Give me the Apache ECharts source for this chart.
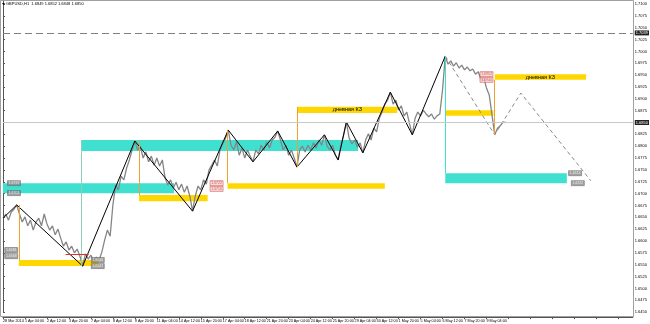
<!DOCTYPE html>
<html><head><meta charset="utf-8">
<script src="https://cdn.jsdelivr.net/npm/echarts/dist/echarts.min.js"></script>
<style>html,body{margin:0;padding:0;background:#fff}#c{width:650px;height:324px}</style>
</head><body><div id="c"></div>
<script>
// ---- data ----
const symbolTitle = 'GBPUSD,H1  1.6849 1.6852 1.6848 1.6850';
const tickLabels = ['28 Mar 2014','1 Apr 04:00','2 Apr 12:00','3 Apr 20:00','7 Apr 04:00','8 Apr 12:00','9 Apr 20:00','11 Apr 04:00','14 Apr 12:00','15 Apr 20:00','17 Apr 04:00','18 Apr 12:00','21 Apr 20:00','23 Apr 04:00','24 Apr 12:00','25 Apr 20:00','29 Apr 04:00','30 Apr 12:00','1 May 20:00','5 May 04:00','6 May 12:00','7 May 20:00','9 May 04:00'];
const barsPerTick = 32;
const closeStep = 4; // H1 bars between samples
const closes = [
1.6648,1.6657,1.6644,1.6661,1.6667,1.6676,1.6657,1.6640,1.6651,1.6632,
1.6644,1.6623,1.6640,1.6648,1.6632,1.6657,1.6636,1.6623,1.6632,1.6613,
1.6625,1.6606,1.6589,1.6598,1.6581,1.6589,1.6575,1.6583,1.6568,1.6547,
1.6573,1.6562,1.6570,1.6558,1.6566,1.6560,1.6577,1.6602,1.6623,1.6610,
1.6676,1.6718,1.6708,1.6737,1.6729,1.6754,1.6771,1.6792,1.6811,1.6792,
1.6800,1.6775,1.6788,1.6767,1.6779,1.6760,1.6775,1.6758,1.6771,1.6733,
1.6718,1.6729,1.6712,1.6724,1.6708,1.6720,1.6703,1.6716,1.6695,1.6663,
1.6695,1.6716,1.6708,1.6729,1.6720,1.6750,1.6760,1.6771,1.6758,1.6792,
1.6805,1.6817,1.6834,1.6802,1.6792,1.6809,1.6781,1.6796,1.6775,1.6792,
1.6779,1.6767,1.6792,1.6784,1.6802,1.6792,1.6809,1.6796,1.6813,1.6819,
1.6832,1.6813,1.6792,1.6802,1.6781,1.6792,1.6775,1.6756,1.6792,1.6800,
1.6788,1.6802,1.6792,1.6807,1.6796,1.6813,1.6802,1.6824,1.6800,1.6792,
1.6802,1.6781,1.6771,1.6802,1.6824,1.6851,1.6817,1.6805,1.6813,1.6798,
1.6807,1.6786,1.6813,1.6826,1.6813,1.6838,1.6830,1.6859,1.6872,1.6889,
1.6897,1.6914,1.6889,1.6897,1.6876,1.6885,1.6864,1.6872,1.6847,1.6824,
1.6859,1.6872,1.6864,1.6876,1.6868,1.6862,1.6868,1.6857,1.6864,1.6868,
1.6919,1.6990,1.6973,1.6980,1.6969,1.6976,1.6965,1.6971,1.6961,1.6967,
1.6959,1.6963,1.6952,1.6957,1.6940,1.6944,1.6923,1.6908,1.6866,1.6824,
1.6838,1.6843,1.6851,1.6850];
const zzBars   = [0,20,116,192,276,328,364,400,428,468,488,500,524,564,596,644];
const zzPrices = [1.6648,1.6676,1.6547,1.6811,1.6663,1.6834,1.6767,1.6832,1.6756,1.6824,1.6771,1.6851,1.6786,1.6914,1.6824,1.6990];
const projBars   = [644,716,754,856];
const projPrices = [1.6990,1.6824,1.6912,1.6727];
const zoneStart  = [0,114,644];
const zoneEnd    = [249,517,821];
const zoneTop    = [1.6722,1.6813,1.6743];
const zoneBottom = [1.6701,1.6790,1.6722];
const dailyStart  = [23,198,327,429,645,716];
const dailyEnd    = [139,298,556,574,714,849];
const dailyTop    = [1.6560,1.6697,1.6722,1.6883,1.6876,1.6952];
const dailyBottom = [1.6547,1.6684,1.6710,1.6870,1.6864,1.6940];
const dailyText   = ['','','','дневная КЗ','','дневная КЗ'];
const markerBars = [23,114,198,327,429,644,716];
const markerFrom = [1.6676,1.6813,1.6811,1.6834,1.6883,1.6990,1.6940];
const markerTo   = [1.6560,1.6547,1.6697,1.6722,1.6756,1.6743,1.6824];
const markerKind = ['daily','zoneLine','daily','daily','daily','zone','daily'];
const tagBars   = [16,16,12,12,138,138,311,311,704,704,833,837];
const tagPrices = [1.6722,1.6701,1.6581,1.6568,1.6560,1.6547,1.6722,1.6710,1.6952,1.6940,1.6743,1.6722];
const tagKind   = ['g','g','g','g','g','g','r','r','r','r','g','g'];
const levelPrice = 1.7039;
const levelText = 'недельная КЗ';
const redLineBars = [91,125];
const redLinePrice = 1.6573;

// ---- styles ----
const X_MIN = 0, X_MAX = 917;
const C = {zone:'#40E0D0', daily:'#FFD700', zoneLine:'#8fcfb8', dailyLine:'#f0a030'};
const lastPrice = closes[closes.length-1];

const chart = echarts.init(document.getElementById('c'), null, {renderer:'canvas'});
const rectData = [];
zoneStart.forEach((s,i)=>rectData.push([{xAxis:s,yAxis:zoneTop[i],itemStyle:{color:C.zone,opacity:1},label:{show:false}},{xAxis:zoneEnd[i],yAxis:zoneBottom[i]}]));
dailyStart.forEach((s,i)=>rectData.push([{xAxis:s,yAxis:dailyTop[i],itemStyle:{color:C.daily,opacity:1},
  label:{show:!!dailyText[i],formatter:dailyText[i],position:'inside',fontSize:5.5,color:'#000',fontFamily:'Liberation Sans'}},{xAxis:dailyEnd[i],yAxis:dailyBottom[i]}]));
const markerData = markerBars.map((b,i)=>[{coord:[b,markerFrom[i]],lineStyle:{color:markerKind[i]==='daily'?C.dailyLine:(markerKind[i]==='zone'?C.zone:C.zoneLine),width:1,type:'solid'}},{coord:[b,markerTo[i]]}]);
markerData.push([{coord:[redLineBars[0],redLinePrice],lineStyle:{color:'#e03030',width:1,type:'solid'}},{coord:[redLineBars[1],redLinePrice]}]);
const axisTag = {show:true,position:'end',distance:2,fontSize:4,color:'#fff',backgroundColor:'#222',padding:[1,1,0,1],fontFamily:'Liberation Sans'};
const levelData = [
  [{coord:[X_MIN,levelPrice],lineStyle:{color:'#808080',width:1,type:[7,4]},label:Object.assign({},axisTag,{formatter:levelPrice.toFixed(4)})},{coord:[X_MAX,levelPrice]}],
  [{coord:[X_MIN,lastPrice],lineStyle:{color:'#c8c8c8',width:1,type:'solid'},label:Object.assign({},axisTag,{formatter:lastPrice.toFixed(4)})},{coord:[X_MAX,lastPrice]}],
  [{coord:[X_MIN,levelPrice],lineStyle:{opacity:0},label:{show:true,position:'insideStartTop',distance:1,formatter:levelText,fontSize:3.5,color:'#444',fontFamily:'Liberation Sans'}},{coord:[X_MAX,levelPrice]}]
];

const option = {
  animation:false,
  backgroundColor:'#fff',
  grid:{left:1,right:16,top:0,bottom:11.9,containLabel:false},
  xAxis:{type:'value',min:X_MIN,max:X_MAX,interval:barsPerTick,offset:5,
    axisLine:{show:true,onZero:false,lineStyle:{color:'#555',width:1}},
    axisTick:{show:true,length:2,lineStyle:{color:'#555'}},
    axisLabel:{fontSize:3.7,color:'#000',align:'left',margin:2,fontFamily:'Liberation Sans',showMinLabel:true,showMaxLabel:false,
      formatter:v=>(v%barsPerTick===0 && tickLabels[v/barsPerTick])||''},
    splitLine:{show:false}},
  yAxis:{type:'value',position:'right',min:1.6450,max:1.710844,interval:0.0025,
    axisLine:{show:true,lineStyle:{color:'#555',width:1}},
    axisTick:{show:true,length:2,lineStyle:{color:'#555'}},
    axisLabel:{fontSize:4,color:'#000',margin:2,fontFamily:'Liberation Sans',showMinLabel:true,showMaxLabel:false,formatter:v=>v.toFixed(4)},
    splitLine:{show:false}},
  graphic:[
    {type:'rect',shape:{x:0.5,y:0.5,width:633,height:316},style:{fill:'none',stroke:'#a0a0a0',lineWidth:1},z:100,silent:true},
    {type:'polygon',shape:{points:[[2,3],[5,3],[3.5,5]]},style:{fill:'#000'},z:101},
    {type:'text',left:6,top:2,style:{text:symbolTitle,fontSize:4,fill:'#000',fontFamily:'Liberation Sans'},z:101}
  ],
  series:[
    {type:'line',name:'rects',data:[],z:1,markArea:{silent:true,data:rectData}},
    {type:'line',name:'markers',data:[],z:2,markLine:{silent:true,symbol:['none','none'],label:{show:false},data:markerData}},
    {type:'line',name:'levels',data:[],z:2,markLine:{silent:true,symbol:['none','none'],data:levelData}},
    {type:'line',name:'price',data:closes.map((p,i)=>[i*closeStep,p]),showSymbol:false,symbol:'none',z:3,
      lineStyle:{color:'#858585',width:1.3}},
    {type:'line',name:'zigzag',data:zzBars.map((b,i)=>[b,zzPrices[i]]),showSymbol:false,symbol:'none',z:4,
      lineStyle:{color:'#000',width:1}},
    {type:'line',name:'projection',data:projBars.map((b,i)=>[b,projPrices[i]]),showSymbol:false,symbol:'none',z:4,
      lineStyle:{color:'#8a8a8a',width:1,type:[4,3]}},
    {type:'scatter',name:'tags',z:5,symbol:'rect',symbolSize:[13,5],
      data:tagBars.map((b,i)=>({value:[b,tagPrices[i]],
        itemStyle:tagKind[i]==='r'?{color:'#f7d4d4',borderColor:'#d04545',borderWidth:0.6}:{color:'#8c8c8c',borderColor:'#666',borderWidth:0.6},
        label:{show:true,position:'inside',formatter:tagPrices[i].toFixed(4),fontSize:3.5,color:tagKind[i]==='r'?'#c03030':'#fff',fontFamily:'Liberation Sans'}}))}
  ]
};
chart.setOption(option);
</script></body></html>
